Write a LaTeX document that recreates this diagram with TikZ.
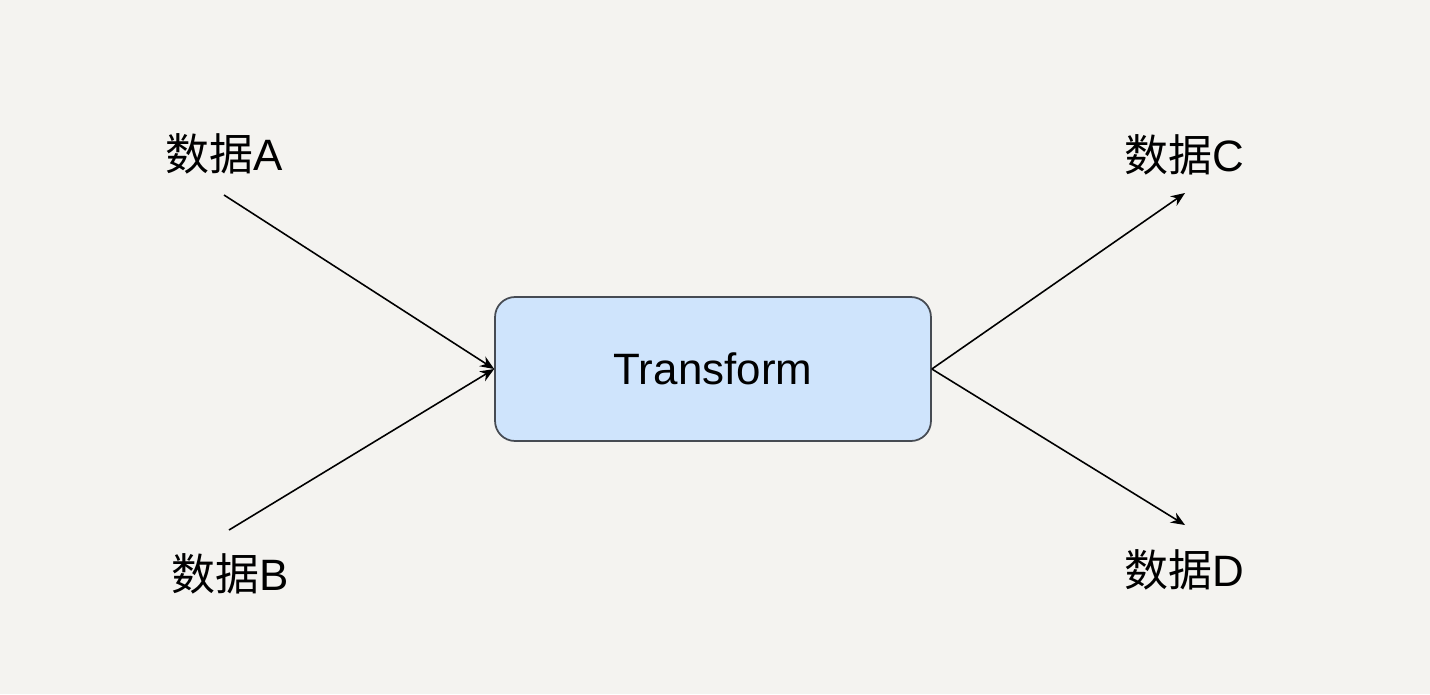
\documentclass[tikz,border=0pt]{standalone}
\usepackage{fontspec}
\setmainfont{Liberation Sans}
\newfontfamily\cjk{Noto Sans CJK SC}
\usetikzlibrary{arrows.meta}
\definecolor{bgpaper}{HTML}{F4F3F0}
\definecolor{boxblue}{HTML}{CFE4FC}
\definecolor{boxline}{HTML}{464B53}
\tikzset{
  datalabel/.style={font=\fontsize{25}{29}\selectfont},
  flow/.style={line width=0.9pt,-{Stealth[length=8pt,width=6.5pt]}}
}

\begin{document}
\begin{tikzpicture}[x=0.02cm,y=-0.02cm]
  \fill[bgpaper] (0,0) rectangle (1430,694);
  \useasboundingbox (0,0) rectangle (1430,694);
  \node[draw=boxline,line width=1pt,fill=boxblue,rounded corners=0.4cm,
        minimum width=8.72cm,minimum height=2.88cm,datalabel] (transform) at (713,369) {Transform};
  \node[datalabel] (dataA) at (224,154) {{\cjk 数据}A};
  \node[datalabel] (dataB) at (230,574) {{\cjk 数据}B};
  \node[datalabel] (dataC) at (1184,155) {{\cjk 数据}C};
  \node[datalabel] (dataD) at (1184,570) {{\cjk 数据}D};
  \coordinate (inA) at (224,195);
  \coordinate (inB) at (229,530);
  \coordinate (outC) at (1185,193);
  \coordinate (outD) at (1185,525);
  \draw[flow] (inA) -- (transform.west);
  \draw[flow] (inB) -- (transform.west);
  \draw[flow] (transform.east) -- (outC);
  \draw[flow] (transform.east) -- (outD);
\end{tikzpicture}
\end{document}
